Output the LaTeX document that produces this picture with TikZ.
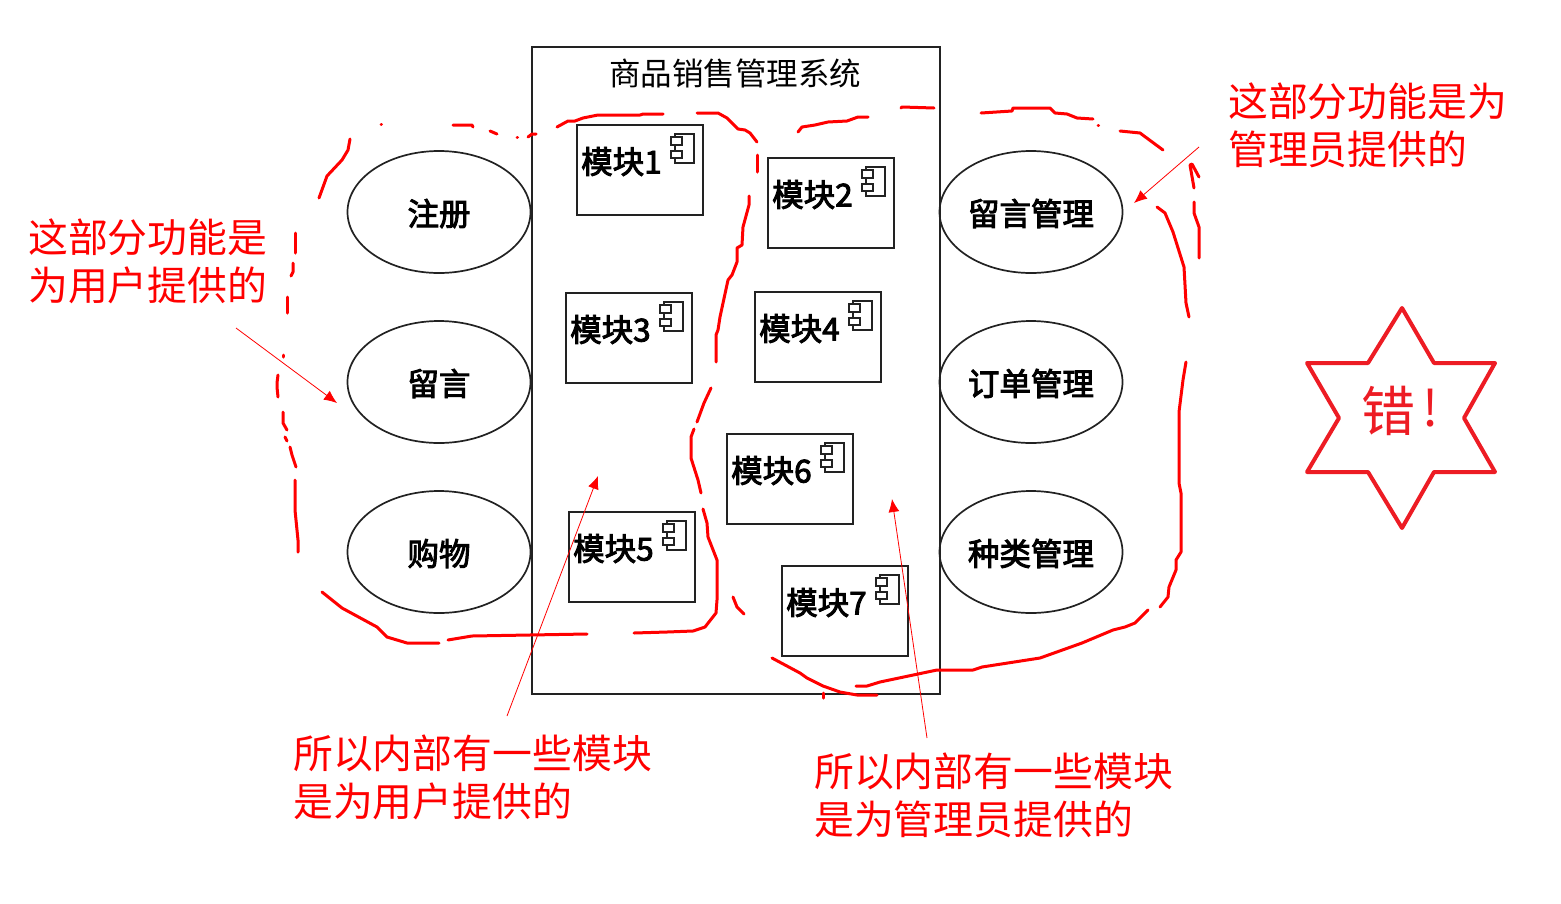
\documentclass[tikz,border=0pt]{standalone}
\usepackage{fontspec}
\usepackage{xcolor}
\usepackage{tikz}
\usetikzlibrary{positioning,arrows.meta,shapes.geometric}
\setmainfont{Noto Sans CJK SC}
\newfontfamily\labelfont[FakeBold=3]{Noto Sans CJK SC}
\definecolor{inkred}{HTML}{FF0000}
\definecolor{starred}{HTML}{ED1C24}
\definecolor{umlgray}{HTML}{222222}
% module box with its label and component icon
\newcommand{\module}[3]{%
  \node[modbox] (#1) at (#2) {};
  \node[modtext] (#1txt) at ([shift={(4,36.5)}]#1.north west) {#3};
  \draw[icon] ([shift={(-28,9)}]#1.north east) rectangle ([shift={(-9,38)}]#1.north east);
  \draw[icon, fill=white] ([shift={(-32,12)}]#1.north east) rectangle ([shift={(-21,20)}]#1.north east);
  \draw[icon, fill=white] ([shift={(-32,26)}]#1.north east) rectangle ([shift={(-21,33)}]#1.north east);
}
\begin{document}
\begin{tikzpicture}[
  x=1pt, y=-1pt,
  node distance=48pt and 0pt,
  usecase/.style={draw=umlgray, line width=1.7pt, outer sep=0pt, ellipse, inner sep=0pt, minimum width=183pt, minimum height=122pt, text height=27pt, text depth=0pt, font=\labelfont\fontsize{31.5}{36}\selectfont},
  modbox/.style={draw=umlgray, line width=1.7pt, outer sep=0pt, anchor=north west, inner sep=0pt, minimum width=126pt, minimum height=90pt},
  modtext/.style={anchor=west, inner sep=0pt, font=\labelfont\fontsize{31.5}{36}\selectfont},
  icon/.style={draw=umlgray, line width=1.1pt},
  note/.style={anchor=west, align=left, inner sep=0pt, text=inkred, font=\fontsize{39.85}{48}\selectfont},
  ink/.style={draw=inkred, line width=3pt, line cap=round, line join=round},
  pointer/.style={draw=inkred, line width=0.8pt, -{Latex[length=13pt,width=11pt]}},
]
\useasboundingbox (0,0) rectangle (1561,903);
% system boundary
\node[draw=umlgray, line width=1.7pt, outer sep=0pt, anchor=north west, inner sep=0pt, minimum width=408pt, minimum height=647pt] (sys) at (532,47) {};
\node[inner sep=0pt, font=\fontsize{31.5}{36}\selectfont] (title) at (735,73) {商品销售管理系统};
% user side
\node[usecase] (reg) at (439,212) {注册};
\node[usecase, below=of reg] (msg) {留言};
\node[usecase, below=of msg] (shop) {购物};
% admin side
\node[usecase] (msgadm) at (1031,212) {留言管理};
\node[usecase, below=of msgadm] (order) {订单管理};
\node[usecase, below=of order] (kind) {种类管理};
% modules
\module{m1}{577,125}{模块1}
\module{m2}{768,158}{模块2}
\module{m3}{566,293}{模块3}
\module{m4}{755,292}{模块4}
\module{m5}{569,512}{模块5}
\module{m6}{727,434}{模块6}
\module{m7}{782,566}{模块7}
% notes
\node[note] (noteuser) at (28,261) {这部分功能是\\为用户提供的};
\node[note] (noteadm) at (1228,125) {这部分功能是为\\管理员提供的};
\node[note] (noteinuser) at (293,777) {所以内部有一些模块\\是为用户提供的};
\node[note] (noteinadm) at (814,795) {所以内部有一些模块\\是为管理员提供的};
% pointers
\coordinate (a1) at (236,328);
\coordinate (a2) at (337,403);
\coordinate (b1) at (1199,147);
\coordinate (b2) at (1134,203);
\coordinate (c1) at (507,716);
\coordinate (c2) at (598,476);
\coordinate (d1) at (927,738);
\coordinate (d2) at (892,499);
\draw[pointer] (a1) -- (a2);
\draw[pointer] (b1) -- (b2);
\draw[pointer] (c1) -- (c2);
\draw[pointer] (d1) -- (d2);
% hand-drawn ring round the user side
\draw[ink] (350,139) -- (348,150) -- (342,160) -- (327,176) -- (319,198);
\draw[ink] (381,124) -- (381.5,124);
\draw[ink] (453,125) -- (472,125) -- (473,127);
\draw[ink] (490,131) -- (497,134);
\draw[ink] (517,137) -- (517.5,137);
\draw[ink] (528,137) -- (532,134) -- (536,134);
\draw[ink] (557,127) -- (568,121) -- (575,121) -- (583,118) -- (598,115) -- (640,115) -- (643,114) -- (663,114);
\draw[ink] (697,113) -- (718,113) -- (727,118) -- (738,129) -- (745,130) -- (750,133) -- (757,142);
\draw[ink] (757,155) -- (757,172);
\draw[ink] (749,196) -- (749,205) -- (743,227) -- (742,245) -- (737,248) -- (737,262) -- (732,275) -- (728,280) -- (720,317) -- (718,330) -- (716,335) -- (716,362);
\draw[ink] (711,388) -- (704,403) -- (697,422);
\draw[ink] (694,429) -- (691,437) -- (691,458) -- (698,480) -- (701,493);
\draw[ink] (703,509) -- (707,523) -- (708,537) -- (717,560) -- (717,600) -- (716,613) -- (705,627) -- (693,631) -- (667,632) -- (634,633);
\draw[ink] (587,634) -- (472,636) -- (448,640);
\draw[ink] (439,643) -- (407,643) -- (387,637) -- (377,627) -- (342,608) -- (322,592);
\draw[ink] (295,233) -- (295,253);
\draw[ink] (293,263) -- (293,272) -- (291,276);
\draw[ink] (287,297) -- (287,313);
\draw[ink] (283,355) -- (283,357);
\draw[ink] (278,375) -- (277,383) -- (277,387) -- (278,397);
\draw[ink] (283,412) -- (283,423) -- (287,430);
\draw[ink] (285,437) -- (287,441);
\draw[ink] (290,447) -- (292,455) -- (296,467);
\draw[ink] (295,480) -- (295,510) -- (298,540) -- (298,552);
\draw[ink] (733,597) -- (737,607) -- (744,614);
% hand-drawn ring round the admin side
\draw[ink] (798,132) -- (802,127) -- (815,125) -- (828,122) -- (847,121) -- (858,117) -- (868,117);
\draw[ink] (901,108) -- (902,107) -- (934,108);
\draw[ink] (981,113) -- (1012,111) -- (1013,108) -- (1050,108) -- (1055,113) -- (1067,114) -- (1077,118) -- (1093,119);
\draw[ink] (1098,125) -- (1098.5,125);
\draw[ink] (1120,131) -- (1140,133) -- (1163,150);
\draw[ink] (1199,177) -- (1192,164) -- (1190,165) -- (1194,188);
\draw[ink] (1194,202) -- (1194,213) -- (1199,227) -- (1199,258);
\draw[ink] (1157,207) -- (1165,213) -- (1173,232) -- (1184,267) -- (1186,303) -- (1189,317);
\draw[ink] (1186,362) -- (1183,380) -- (1179,412) -- (1179,483) -- (1181,493) -- (1181,552) -- (1176,560) -- (1176,570) -- (1169,587) -- (1168,597) -- (1160,607);
\draw[ink] (1148,610) -- (1135,623) -- (1125,627) -- (1113,630) -- (1082,643) -- (1040,658) -- (982,667) -- (973,670) -- (937,670) -- (880,682) -- (867,686) -- (856,686);
\draw[ink] (772,658) -- (800,673) -- (807,678) -- (823,686) -- (840,692) -- (857,695) -- (877,695);
\draw[ink] (823,693) -- (823,698);
% star
\draw[draw=starred, line width=4pt, line join=round] (1402,308) -- (1434,363) -- (1495,363) -- (1464,418) -- (1495,472) -- (1434,472) -- (1402,528) -- (1368,472) -- (1307,472) -- (1339,418) -- (1307,363) -- (1368,363) -- cycle;
\node[inner sep=0pt, text=starred, font=\fontsize{54}{60}\selectfont] (wrong) at (1388,411) {错};
\node[inner sep=0pt, text=starred, font=\fontsize{50}{60}\selectfont] (bang) at (1431,408) {!};
\end{tikzpicture}
\end{document}
